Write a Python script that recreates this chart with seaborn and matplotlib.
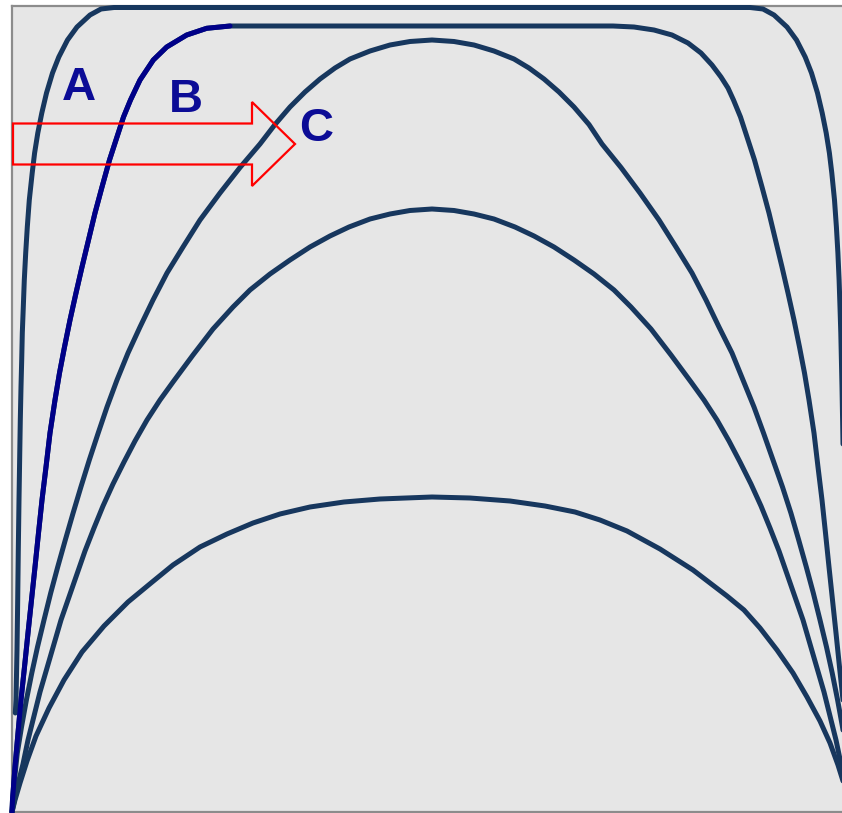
import matplotlib
matplotlib.use("Agg")
import matplotlib.pyplot as plt
from matplotlib.patches import FancyArrow
import seaborn as sns

# curves (x: 0-840 across, y: 0-806 up, same unit both ways)
a_x = [3.3, 4, 5, 5.7, 6.3, 7, 7.8, 8.3, 9, 9.7, 10.3, 11.3, 12.3, 13.7, 15.3, 17.3, 20.2, 22.6,
       25.8, 29.8, 34.5, 40.5, 46.8, 55.5, 65, 78, 89, 102,
       738, 751, 762, 775, 784.5, 793.2, 799.5, 805.5, 810.2, 814.2, 817.4, 819.8, 822.5, 824.4,
       825.9, 827.1, 828, 828.8, 829.4, 830, 830.6, 831.1, 831.8, 832.4, 833, 833.6, 834.3, 835]
a_y = [99, 112, 162, 212, 262, 312, 362, 392, 425, 452, 479, 505, 532, 559, 585, 612, 639, 659,
       679, 699, 719, 739, 755, 772, 785, 797, 803, 804.5,
       804.5, 803, 797, 785, 772, 755, 739, 719, 699, 679, 659, 639, 612, 585,
       559, 532, 505, 479, 452, 425, 392, 362, 312, 262, 212, 162, 112, 99]

b_x = [0, 0.5, 3, 6, 9, 12.5, 16, 19.5, 23, 26.5, 30, 34, 38, 43, 47.5, 52.5, 58, 64, 70, 76.5,
       83, 90, 97.5, 104, 111.5, 118.5, 128, 141.3, 154.7, 174.7, 194.7, 218,
       601, 622, 642, 660, 676, 689, 700, 709, 716, 721.5, 728.5, 736, 742.5, 750, 757, 763.5,
       770, 776, 782, 787.5, 792.5, 797, 802, 806, 810, 813.5, 817, 820.5, 824, 827.5, 831,
       834, 837, 839.5, 840]
b_y = [0, 12, 45, 79, 112, 145, 179, 212, 245, 279, 312, 345, 379, 412, 439, 465, 492, 519, 545, 572,
       599, 625, 652, 672, 695, 712, 732, 752, 765, 777, 783.7, 786,
       786, 785, 782, 777, 769, 759, 747, 735, 724, 712, 695, 672, 652, 625, 599, 572,
       545, 519, 492, 465, 439, 412, 379, 345, 312, 279, 245, 212, 179, 145, 112,
       79, 45, 12, 0]
b_highlight = 32  # first points of B, drawn in blue

c_x = [0, 2.5, 5.3, 9.5, 14.4, 19.8, 25.5, 32, 38.7, 45.7, 53.3, 61.1, 68.9, 77.3, 86.2, 95, 105,
       116, 128, 141, 155, 171, 188, 208, 228, 248, 263, 278, 293, 308, 323, 338, 358, 378, 398, 420,
       442, 462, 482, 502, 517, 532, 547, 562, 577, 590, 609, 628, 647, 664, 680, 694, 707, 720,
       731, 742, 751.5, 761, 770.5, 778.9, 786.7, 794.3, 801.3, 808, 814.5, 820.2, 825.6, 830.5,
       834.7, 837.5, 840]
c_y = [0, 32, 59, 85, 112, 139, 165, 192, 219, 245, 272, 299, 325, 352, 379, 405, 432,
       459, 485, 512, 539, 565, 592, 619, 644.5, 668, 687.5, 705, 720, 733, 744, 753, 761, 767, 770.5, 772,
       770.5, 767, 761, 753, 744, 733, 720, 705, 687.5, 668, 644.5, 619, 592, 565, 539, 512, 485, 459,
       432, 405, 379, 352, 325, 299, 272, 245, 219, 192, 165, 139, 112, 85,
       59, 32, 0]

d_x = [0, 5, 11, 16, 22, 28, 35, 42, 49, 57, 65, 73, 82, 91, 101, 112, 123, 135, 148, 161, 181,
       201, 221, 238, 258, 278, 298, 318, 337, 358, 378, 398, 420,
       442, 462, 482, 503, 522, 542, 562, 582, 602, 619, 639, 659, 679, 692, 705, 717, 728, 739,
       749, 758, 767, 775, 783, 791, 798, 805, 812, 818, 824, 829, 835, 840]
d_y = [0, 24, 48, 72, 96, 120, 144, 168, 192, 215, 238, 261, 284, 306, 328, 350, 371, 392, 412, 430, 457,
       483, 505, 522, 538, 552, 565, 576, 585, 593, 598, 601.5, 603,
       601.5, 598, 593, 585, 576, 565, 552, 538, 522, 505, 483, 457, 430, 412, 392, 371, 350, 328,
       306, 284, 261, 238, 215, 192, 168, 144, 120, 96, 72, 48, 24, 0]

e_x = [0, 3, 8, 15, 24, 37, 52, 70, 92, 116, 139, 161, 188, 215, 241, 268, 298, 332, 368, 420,
       458, 498, 533, 563, 588, 615, 648, 681, 715, 732, 748, 765, 781, 795, 808, 818, 826, 831, 836, 840]
e_y = [0, 12, 29, 51, 76, 104, 132, 160, 186, 210, 229, 247, 265, 278, 289, 298, 305, 310, 313, 315,
       314, 311, 306, 300, 292, 281, 263, 242, 216, 202, 184, 162, 139, 115, 91, 69, 47, 31, 14, 0]

labels = ["A", "B", "C"]
label_x = [67, 174, 304]
label_y = [712, 700, 671]

navy = "#17375e"
blue = "#000088"

sns.set_style("white", {"axes.facecolor": "#e6e6e6", "axes.edgecolor": "#8c8c8c"})
plt.rcParams["font.family"] = ["Liberation Sans", "DejaVu Sans"]

fig = plt.figure(figsize=(8.42, 8.13), dpi=100)
ax = fig.add_axes([12 / 842, 1 / 813, 840 / 842, 806 / 813])

for xs, ys in [(a_x, a_y), (b_x, b_y), (c_x, c_y), (d_x, d_y), (e_x, e_y)]:
    sns.lineplot(x=xs, y=ys, ax=ax, color=navy, linewidth=3.6, sort=False,
                 estimator=None, clip_on=False, zorder=3)
# rising part of B highlighted
sns.lineplot(x=b_x[:b_highlight], y=b_y[:b_highlight], ax=ax, color=blue, linewidth=3.6,
             sort=False, estimator=None, clip_on=False, zorder=4)

for t, lx, ly in zip(labels, label_x, label_y):
    ax.text(lx, ly, t, ha="center", va="baseline", fontsize=34, fontweight="bold",
            color="#0c0c96", zorder=6)

# red outlined arrow
arrow = FancyArrow(1, 668, 282, 0, width=41, head_width=84, head_length=43,
                   length_includes_head=True, fill=False, ec="red", lw=1.6,
                   zorder=5, clip_on=False)
ax.add_patch(arrow)

ax.set_xlim(0, 840)
ax.set_ylim(0, 806)
ax.set_xticks([])
ax.set_yticks([])
for s in ax.spines.values():
    s.set_linewidth(1.6)
    s.set_color("#8c8c8c")

fig.savefig("out.png", dpi=100)
